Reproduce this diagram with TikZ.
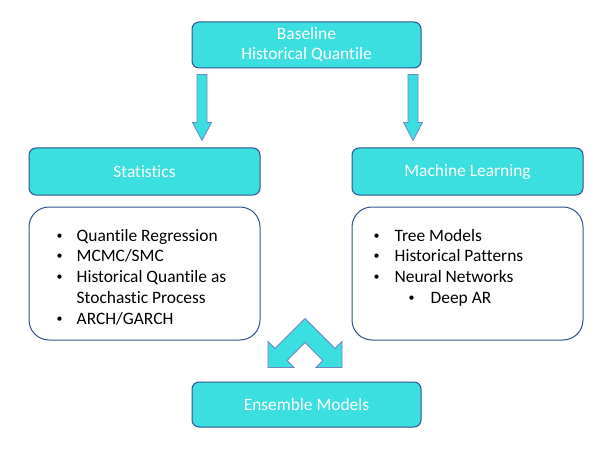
\documentclass[tikz,border=0pt]{standalone}
\usepackage{fontspec}
\setmainfont{Carlito}[Ligatures=NoCommon]
\usetikzlibrary{calc}
\definecolor{bqcyan}{HTML}{3CDFDF}
\definecolor{bqnavy}{HTML}{2F528F}
\definecolor{bqedge}{HTML}{7285C2}
\newcommand\bqdot{\raisebox{2pt}{\fontsize{12}{12}\selectfont\textbullet}}
\tikzset{
  head/.style  = {rectangle, rounded corners=7pt, draw=bqnavy, line width=1pt,
                  fill=bqcyan, text=white, minimum width=229pt, minimum height=46pt,
                  font=\fontsize{17.4}{20}\selectfont, align=center},
  lst/.style   = {rectangle, rounded corners=20pt, draw=bqnavy, line width=1pt,
                  fill=white, minimum width=231pt, minimum height=133pt},
  items/.style = {font=\fontsize{17.4}{20.75}\selectfont, inner sep=0pt,
                  anchor=north west, text=black},
  fat/.style   = {draw=bqedge, line width=0.8pt, fill=bqcyan, line join=miter},
}

\begin{document}
\begin{tikzpicture}[x=1pt,y=-1pt]
  \useasboundingbox (0,0) rectangle (616,468);
  \node[head] (base) at (306.5,45) {Baseline\\Historical Quantile};
  \node[head, minimum width=231pt, minimum height=47pt] (stat) at (144.5,171.5) {Statistics};
  \node[head, minimum width=231pt, minimum height=47pt] (ml) at (467.5,171.5) {Machine Learning};
  \node[lst] (lst1) at (144.5,273.5) {};
  \node[lst] (lst2) at (467.5,273.5) {};
  \node[head, minimum height=45pt] (ens) at (306.5,404.5) {Ensemble Models};
  \node[items] (it1) at ($(lst1.north west)+(28,20)$)
    {\begin{tabular}{@{}p{20pt}@{}l@{}}
      \bqdot & Quantile Regression\\
      \bqdot & MCMC/SMC\\
      \bqdot & Historical Quantile as\\
             & Stochastic Process\\
      \bqdot & ARCH/GARCH
     \end{tabular}};
  \node[items] (it2) at ($(lst2.north west)+(22,20)$)
    {\begin{tabular}{@{}p{21pt}@{}l@{}}
      \bqdot & Tree Models\\
      \bqdot & Historical Patterns\\
      \bqdot & Neural Networks\\
             & \hspace{14pt}\makebox[22pt][l]{\bqdot}Deep AR
     \end{tabular}};
  % block arrows from the baseline down to both branches
  \coordinate (la) at ($(base.south)+(-104.5,6)$);
  \coordinate (lb) at ($(stat.north)+(57.5,-7)$);
  \coordinate (ra) at ($(base.south)+(106.5,6)$);
  \coordinate (rb) at ($(ml.north)+(-54.5,-7)$);
  \foreach \a/\b in {la/lb,ra/rb}{
    \draw[fat] ($(\a)+(-5,0)$) -- ($(\a)+(5,0)$) -- ($(\b)+(5,-18)$) -- ++(4.5,0)
      -- (\b) -- ++(-9.5,-18) -- ++(4.5,0) -- cycle;
  }
  \coordinate (ch) at ($(ens.north)+(-1.5,-63)$);
  \draw[fat] (ch) -- ++(-30,30) -- ++(-7,-7) -- ++(0,26) -- ++(26,0) -- ++(-7,-7)
    -- ++(18,-18) -- ++(18,18) -- ++(-7,7) -- ++(26,0) -- ++(0,-26) -- ++(-7,7) -- cycle;
\end{tikzpicture}
\end{document}
